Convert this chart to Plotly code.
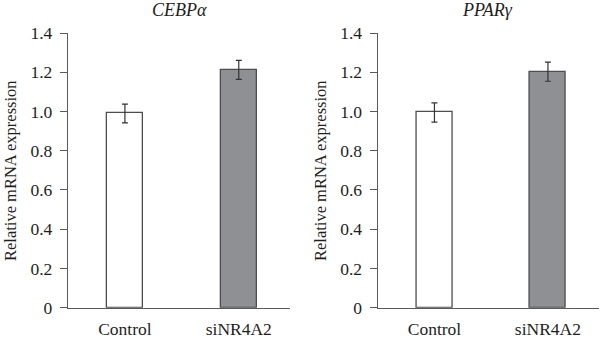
import plotly.graph_objects as go

categories = ["Control", "siNR4A2"]
cebpa_values = [0.99, 1.212]
cebpa_errors = [0.048, 0.048]
pparg_values = [0.995, 1.203]
pparg_errors = [0.049, 0.049]
panel_titles = ["CEBPα", "PPARγ"]
y_tickvals = [0, 0.2, 0.4, 0.6, 0.8, 1.0, 1.2, 1.4]
y_ticktext = ["0", "0.2", "0.4", "0.6", "0.8", "1.0", "1.2", "1.4"]
y_title = "Relative mRNA expression"

W, H = 600, 338
FONT = "'Liberation Serif', 'DejaVu Serif', serif"
fill_colors = ["#ffffff", "#8e9094"]
line_col = "#4d4d4d"
axis_col = "#5a5a5a"
txt_col = "#1e1e1e"

fig = go.Figure()
for i, (vals, errs) in enumerate([(cebpa_values, cebpa_errors), (pparg_values, pparg_errors)]):
    sfx = "" if i == 0 else "2"
    fig.add_trace(go.Bar(
        x=categories, y=vals, width=0.315,
        marker=dict(color=fill_colors, line=dict(color=line_col, width=1.3)),
        error_y=dict(type="data", array=errs, visible=True, color="#333333", thickness=1.2, width=3),
        xaxis="x" + sfx, yaxis="y" + sfx, showlegend=False,
    ))

y0, y1 = 1 - 307.7 / H, 1 - 33 / H
xdoms = [[68 / W, 290 / W], [377.7 / W, 599 / W]]
for i in range(2):
    sfx = "" if i == 0 else "2"
    fig.update_layout(**{
        "xaxis" + sfx: dict(
            domain=xdoms[i], range=[-0.5, 1.45], anchor="y" + sfx, automargin=False,
            showline=True, linecolor=axis_col, linewidth=1.3, ticks="", showgrid=False,
            tickfont=dict(family=FONT, size=17.5, color=txt_col), ticklabelstandoff=5,
            fixedrange=True,
        ),
        "yaxis" + sfx: dict(
            domain=[y0, y1], range=[0, 1.4], anchor="x" + sfx, automargin=False,
            showline=True, linecolor=axis_col, linewidth=1.3, ticks="outside", ticklen=7,
            tickcolor=axis_col, tickwidth=1.3, showgrid=False, zeroline=False,
            tickvals=y_tickvals, ticktext=y_ticktext, ticklabelstandoff=4,
            tickfont=dict(family=FONT, size=17.5, color=txt_col),
        ),
    })

annotations = []
title_x = [179 / W, 487 / W]
yt_x = [10 / W, 320 / W]
for i in range(2):
    annotations.append(dict(
        text="<i>%s</i>" % panel_titles[i], x=title_x[i], y=1 - 10 / H, xref="paper", yref="paper",
        showarrow=False, font=dict(family=FONT, size=18, color=txt_col), xanchor="center", yanchor="middle",
    ))
    annotations.append(dict(
        text=y_title, x=yt_x[i], y=1 - 171 / H, xref="paper", yref="paper", textangle=-90,
        showarrow=False, font=dict(family=FONT, size=16.5, color=txt_col), xanchor="center", yanchor="middle",
    ))

fig.update_layout(
    width=W, height=H, margin=dict(l=0, r=0, t=0, b=0, autoexpand=False),
    paper_bgcolor="white", plot_bgcolor="white",
    annotations=annotations, bargap=0,
)
fig.write_html("out.html")
